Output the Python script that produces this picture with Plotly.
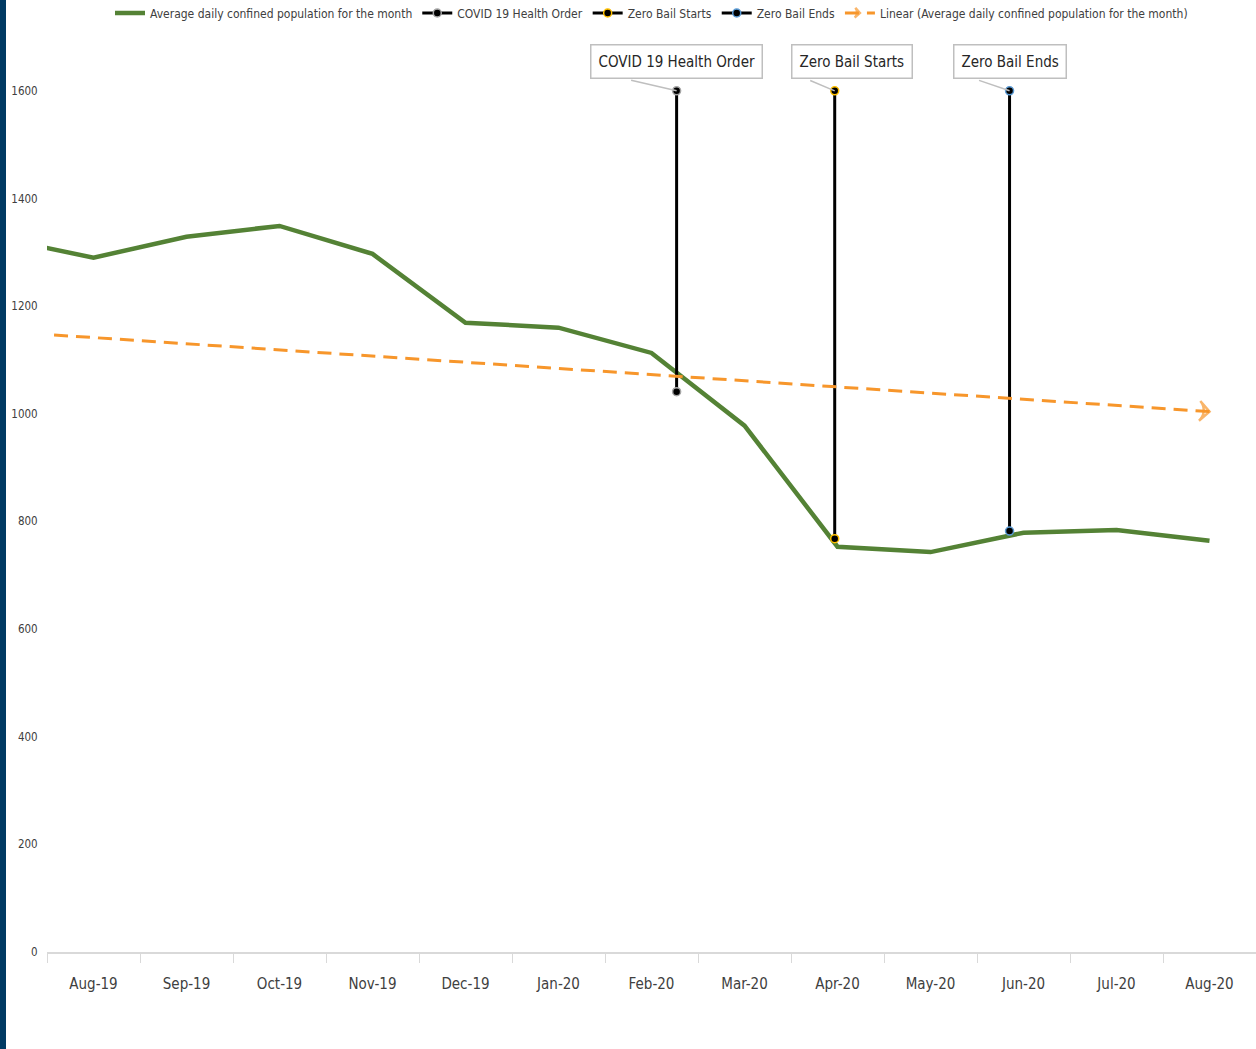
import plotly.graph_objects as go

# ---- data ----
months = ["Jul-19", "Aug-19", "Sep-19", "Oct-19", "Nov-19", "Dec-19", "Jan-20",
          "Feb-20", "Mar-20", "Apr-20", "May-20", "Jun-20", "Jul-20", "Aug-20"]
month_pos = list(range(len(months)))
population = [1326, 1290, 1329, 1349, 1297, 1169, 1160, 1113, 978, 753, 743, 779, 784, 764]

trend_pos = [13, 0]
trend_vals = [1004, 1153]

events = ["COVID 19 Health Order", "Zero Bail Starts", "Zero Bail Ends"]
event_pos = [7.27, 8.97, 10.85]
event_top = [1600, 1600, 1600]
event_bottom = [1041, 768, 782]
event_marker_colors = ["#A6A6A6", "#FFC000", "#5B9BD5"]

y_ticks = [0, 200, 400, 600, 800, 1000, 1200, 1400, 1600]

FONT = "DejaVu Sans Condensed, Roboto, sans-serif"

fig = go.Figure()

fig.add_trace(go.Scatter(
    x=month_pos, y=population, mode="lines",
    name="Average daily confined population for the month",
    line=dict(color="#548235", width=4.5),
))

for name, xp, yt, yb, mc in zip(events, event_pos, event_top, event_bottom, event_marker_colors):
    fig.add_trace(go.Scatter(
        x=[xp, xp], y=[yt, yb], mode="lines+markers", name=name,
        line=dict(color="black", width=3),
        marker=dict(color="black", size=8, line=dict(color=mc, width=1.5)),
        cliponaxis=False,
    ))

fig.add_trace(go.Scatter(
    x=trend_pos, y=trend_vals, mode="lines+markers",
    name="Linear (Average daily confined population for the month)",
    line=dict(color="#F7962B", width=3, dash="14px,8px"),
    marker=dict(symbol="arrow-wide-open", size=[14, 0], angle=94,
                color="#F7962B", line=dict(color="#F7962B", width=2.5)),
    cliponaxis=False,
))

# callout boxes
offsets = [0, 17, 0]
pointer_ax = [-47, -26, -32]
for name, xp, yt, off, pax in zip(events, event_pos, event_top, offsets, pointer_ax):
    fig.add_annotation(
        x=xp, y=yt, xref="x", yref="y", text="", showarrow=True,
        ax=pax, ay=-11, arrowhead=0, arrowwidth=1.5, arrowcolor="#BFBFBF",
    )
    fig.add_annotation(
        x=xp, y=yt, xref="x", yref="y", text=name, showarrow=False,
        xshift=off, yshift=29, yanchor="middle", xanchor="center",
        font=dict(family=FONT, size=15, color="#262626"),
        bgcolor="white", bordercolor="#BFBFBF", borderwidth=1.5, borderpad=7,
    )

# left blue bar
fig.add_shape(type="rect", xref="paper", yref="paper",
              x0=-47 / 1209, x1=-41 / 1209, y0=-97 / 915, y1=1 + 37 / 915,
              fillcolor="#003A63", line=dict(width=0), layer="above")

fig.update_layout(
    width=1256, height=1049,
    margin=dict(l=47, r=0, t=37, b=97, autoexpand=False),
    paper_bgcolor="white", plot_bgcolor="white",
    font=dict(family=FONT, color="#404040"),
    showlegend=True,
    legend=dict(orientation="h", x=0.5, xanchor="center", y=1 + 24 / 915, yanchor="middle",
                font=dict(family=FONT, size=12, color="#404040"),
                itemwidth=30, traceorder="normal"),
)
fig.update_xaxes(
    range=[0.5, 13.5], tickmode="array", tickvals=month_pos[1:], ticktext=months[1:],
    ticks="outside", ticklen=17, tickcolor="rgba(0,0,0,0)",
    tickfont=dict(family=FONT, size=15, color="#404040"),
    showline=True, linecolor="#D9D9D9", linewidth=2, showgrid=False, zeroline=False,
    minor=dict(ticks="outside", tick0=0.5, dtick=1, ticklen=9, tickcolor="#D9D9D9", tickwidth=1, showgrid=False),
)
fig.update_yaxes(
    range=[0, 1700], tickmode="array", tickvals=y_ticks,
    ticks="outside", ticklen=6, tickcolor="rgba(0,0,0,0)",
    tickfont=dict(family=FONT, size=11.5, color="#404040"),
    showline=False, showgrid=False, zeroline=False,
)

fig.write_html("out.html", config={"displayModeBar": False},
               post_script="document.body.style.margin='0px';")
